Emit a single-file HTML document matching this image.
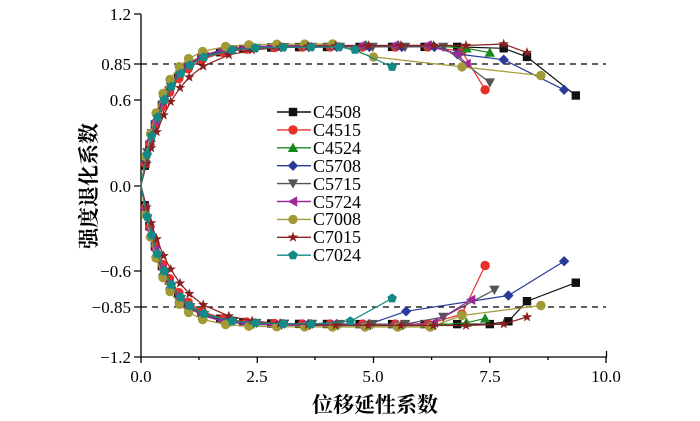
<!DOCTYPE html>
<html><head><meta charset="utf-8"><style>
html,body{margin:0;padding:0;background:#fff;width:700px;height:421px;overflow:hidden}
svg text{font-family:"Liberation Serif","Noto Serif CJK SC",serif}
</style></head><body>
<svg id="s" width="700" height="421" viewBox="0 0 700 421" xmlns="http://www.w3.org/2000/svg">
<g fill="none" stroke="#000" stroke-width="1.3">
<path d="M141,14 V357 H606.5 V351"/>
<path d="M134,14H141 M134,64H141 M134,100H141 M134,186H141 M134,271H141 M134,307H141 M134,357H141"/>
<path d="M141,357v6 M257.3,357v6 M373.5,357v6 M489.8,357v6 M606,357v6 M199,357v3 M315,357v3 M431.6,357v3 M548,357v3"/>
<path d="M141,64H606" stroke-dasharray="6,5"/>
<path d="M141,307H606" stroke-dasharray="6,5"/>
</g>
<g font-size="17" text-anchor="end">
<text x="131" y="20">1.2</text><text x="131" y="70">0.85</text><text x="131" y="106">0.6</text>
<text x="131" y="192">0.0</text><text x="131" y="277">−0.6</text><text x="131" y="313">−0.85</text><text x="131" y="363">−1.2</text>
</g>
<g font-size="17" text-anchor="middle">
<text x="141" y="382">0.0</text><text x="257" y="382">2.5</text><text x="373" y="382">5.0</text><text x="490" y="382">7.5</text><text x="606" y="382">10.0</text>
</g>
<text x="375" y="412" font-size="21" font-weight="bold" text-anchor="middle" style="font-family:'Noto Serif CJK SC',serif">位移延性系数</text>
<text transform="translate(96,186) rotate(-90)" font-size="21" font-weight="bold" text-anchor="middle" style="font-family:'Noto Serif CJK SC',serif">强度退化系数</text>
<g id="curves"></g>
<g id="leg"></g>
<g font-size="18">
<text x="313" y="118">C4508</text><text x="313" y="136">C4515</text><text x="313" y="154">C4524</text>
<text x="313" y="172">C5708</text><text x="313" y="190">C5715</text><text x="313" y="208">C5724</text>
<text x="313" y="225">C7008</text><text x="313" y="243">C7015</text><text x="313" y="261">C7024</text>
</g>
</svg>
<script>
var X=function(v){return 141+v*46.5},Y=function(v){return 185.5-v*142.9};
function mk(t,x,y,c){var r=4.2;
 if(t=='sq')return '<rect x="'+(x-r)+'" y="'+(y-r)+'" width="'+2*r+'" height="'+2*r+'" fill="'+c+'"/>';
 if(t=='ci'||t=='ol')return '<circle cx="'+x+'" cy="'+y+'" r="'+(r+0.5)+'" fill="'+c+'"/>';
 if(t=='tu')return '<polygon points="'+x+','+(y-r-1)+' '+(x+r+1)+','+(y+r)+' '+(x-r-1)+','+(y+r)+'" fill="'+c+'"/>';
 if(t=='td')return '<polygon points="'+x+','+(y+r+1)+' '+(x+r+1)+','+(y-r)+' '+(x-r-1)+','+(y-r)+'" fill="'+c+'"/>';
 if(t=='di')return '<polygon points="'+x+','+(y-r-1)+' '+(x+r+1)+','+y+' '+x+','+(y+r+1)+' '+(x-r-1)+','+y+'" fill="'+c+'"/>';
 if(t=='tl')return '<polygon points="'+(x-r-1)+','+y+' '+(x+r)+','+(y-r-1)+' '+(x+r)+','+(y+r+1)+'" fill="'+c+'"/>';
 if(t=='st'){var p='';for(var i=0;i<10;i++){var a=-Math.PI/2+i*Math.PI/5,rr=i%2?2.2:5.5;p+=(x+rr*Math.cos(a)).toFixed(1)+','+(y+rr*Math.sin(a)).toFixed(1)+' ';}return '<polygon points="'+p+'" fill="'+c+'"/>';}
 if(t=='pe'){var p='';for(var i=0;i<5;i++){var a=-Math.PI/2+i*2*Math.PI/5;p+=(x+5*Math.cos(a)).toFixed(1)+','+(y+5*Math.sin(a)).toFixed(1)+' ';}return '<polygon points="'+p+'" fill="'+c+'"/>';}
}
var S=[
['sq','#111',0.97,0.52,[[7.8,0.96],[8.3,0.9],[9.35,0.63]],[[7.9,-0.95],[8.3,-0.81],[9.35,-0.68]]],
['ci','#e8302a',0.97,0.55,[[6.9,0.94],[7.4,0.67]],[[6.9,-0.9],[7.4,-0.56]]],
['tu','#168a1e',0.98,0.5,[[7.0,0.96],[7.5,0.93]],[[7.0,-0.96],[7.4,-0.93]]],
['di','#2a3a9a',0.97,0.48,[[6.8,0.92],[7.8,0.88],[9.1,0.67]],[[5.7,-0.88],[7.9,-0.77],[9.1,-0.53]]],
['td','#555',0.97,0.5,[[6.5,0.97],[7.5,0.72]],[[6.5,-0.92],[7.6,-0.73]]],
['tl','#9a2a9a',0.98,0.5,[[6.8,0.92],[7.0,0.85]],[[6.3,-0.96],[7.1,-0.8]]],
['ol','#a19a35',0.99,0.45,[[5.0,0.9],[6.9,0.83],[8.6,0.77]],[[6.9,-0.91],[8.6,-0.84]]],
['st','#8a2020',0.98,0.7,[[7.8,0.99],[8.3,0.93]],[[7.8,-0.97],[8.3,-0.92]]],
['pe','#138a86',0.97,0.52,[[4.6,0.95],[5.4,0.83]],[[4.5,-0.95],[5.4,-0.79]]]
];
var h='',L='';
S.forEach(function(s,k){
 [1,-1].forEach(function(sg){
  var tail=sg>0?s[4]:s[5],end=tail[0][0],pts=[[0,0]];
  var xs=[0.08,0.18,0.3,0.45,0.6,0.8,1.0,1.3,1.7,2.2,2.8,3.4,4.0,4.7,5.4,6.1,6.8,7.5];
  xs.forEach(function(x,i){x+=((k*0.37)%0.3)*(i>7?1:0.2);if(x<end-0.3)pts.push([x,sg*s[2]*(1-Math.exp(-x/s[3]))]);});
  tail.forEach(function(p){pts.push(p);});
  var d='',m='';
  pts.forEach(function(p,i){var x=X(p[0]).toFixed(1),y=Y(p[1]).toFixed(1);d+=(i?'L':'M')+x+','+y;if(i)m+=mk(s[0],+x,+y,s[1]);});
  h+='<path d="'+d+'" fill="none" stroke="'+s[1]+'" stroke-width="1.2"/>'+m;
 });
 var ly=112+k*17.9;
 L+='<path d="M277,'+ly+'H311" stroke="'+s[1]+'" stroke-width="1.4"/>'+mk(s[0],293,ly,s[1]);
});
document.getElementById('curves').innerHTML=h;
document.getElementById('leg').innerHTML=L;
</script>
</body></html>
